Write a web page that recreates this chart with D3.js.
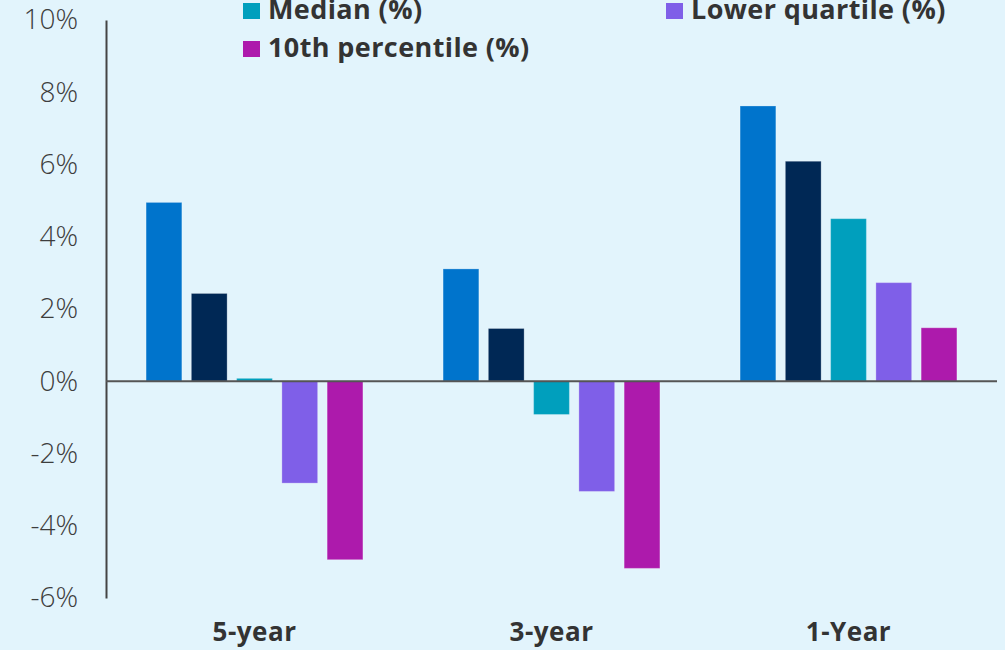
<!DOCTYPE html>
<html>
<head>
<meta charset="utf-8">
<script src="https://cdn.jsdelivr.net/npm/d3@7"></script>
<style>
  html, body { margin: 0; padding: 0; background: #e2f4fc; }
  svg { display: block; }
</style>
</head>
<body>
<svg id="chart" width="1005" height="650"></svg>
<script>
// Return periods shown along the x axis
const categories = ["5-year", "3-year", "1-Year"];

// Series (one bar per series in each period), values in %
const seriesNames = ["90th percentile (%)", "Upper quartile (%)", "Median (%)", "Lower quartile (%)", "10th percentile (%)"];
const p90 = [4.95, 3.11, 7.62];
const upperQuartile = [2.43, 1.46, 6.09];
const median = [0.08, -0.92, 4.50];
const lowerQuartile = [-2.82, -3.05, 2.73];
const p10 = [-4.94, -5.18, 1.48];
const seriesValues = [p90, upperQuartile, median, lowerQuartile, p10];

const colors = ["#0074cc", "#002855", "#009fbd", "#7f5fe8", "#ad1aac"];
const yTicks = [-6, -4, -2, 0, 2, 4, 6, 8, 10];

const svg = d3.select("#chart");
const W = 1005, H = 650;
const margin = { left: 106, right: 8, top: 20, bottom: 52 };
const FONT = "'Open Sans', sans-serif";

const x0 = d3.scaleBand()
  .domain(categories)
  .range([margin.left, W - margin.right])
  .paddingInner(0.27)
  .paddingOuter(0.135);

const x1 = d3.scaleBand()
  .domain(seriesNames)
  .range([0, x0.bandwidth()])
  .paddingInner(0.21)
  .paddingOuter(0);

const y = d3.scaleLinear()
  .domain([-6, 10])
  .range([H - margin.bottom, margin.top]);

// Bars
const rows = categories.map((c, i) => ({
  cat: c,
  vals: seriesNames.map((s, j) => ({ s, j, v: seriesValues[j][i] }))
}));

svg.append("g").selectAll("g")
  .data(rows)
  .join("g")
  .attr("transform", d => `translate(${x0(d.cat)},0)`)
  .selectAll("rect")
  .data(d => d.vals)
  .join("rect")
  .attr("x", d => x1(d.s))
  .attr("width", x1.bandwidth())
  .attr("y", d => y(Math.max(0, d.v)))
  .attr("height", d => Math.abs(y(d.v) - y(0)))
  .attr("fill", d => colors[d.j])
  .attr("stroke", "rgba(255,255,255,0.25)")
  .attr("stroke-width", 1);

// Y axis: labels only, with a plain vertical rule
const yAxis = d3.axisLeft(y)
  .tickValues(yTicks)
  .tickFormat(d => d + "%")
  .tickSize(0)
  .tickPadding(28);

const gy = svg.append("g")
  .attr("transform", `translate(${margin.left},0)`)
  .call(yAxis);
gy.select(".domain").attr("stroke", "#444").attr("stroke-width", 2);
gy.selectAll(".tick text")
  .attr("font-family", FONT)
  .attr("font-size", 28)
  .attr("font-weight", 300)
  .attr("fill", "#3d3d3d");

// Zero line
svg.append("line")
  .attr("x1", margin.left)
  .attr("x2", W - margin.right)
  .attr("y1", y(0))
  .attr("y2", y(0))
  .attr("stroke", "#555")
  .attr("stroke-width", 2);

// Category labels
const xAxis = d3.axisBottom(x0).tickSize(0).tickPadding(0);
const gx = svg.append("g")
  .attr("transform", `translate(0,641)`)
  .call(xAxis);
gx.select(".domain").remove();
gx.selectAll(".tick text")
  .attr("y", 0)
  .attr("dy", 0)
  .attr("font-family", FONT)
  .attr("font-size", 26)
  .attr("font-weight", 700)
  .attr("letter-spacing", 0.5)
  .attr("fill", "#333");

// Legend: two columns, rows 38px apart; the first row sits above the top edge
const legendCols = [243, 666];
const legendRowY = [-28, 11, 49];
const legend = svg.append("g")
  .selectAll("g")
  .data(seriesNames.map((s, j) => ({ s, j })))
  .join("g")
  .attr("transform", d => `translate(${legendCols[d.j % 2]},${legendRowY[Math.floor(d.j / 2)]})`);

legend.append("rect")
  .attr("x", 0)
  .attr("y", -8)
  .attr("width", 17)
  .attr("height", 16)
  .attr("fill", d => colors[d.j]);

legend.append("text")
  .attr("x", 25)
  .attr("y", 0)
  .attr("dy", "0.28em")
  .attr("font-family", FONT)
  .attr("font-size", 27)
  .attr("font-weight", 700)
  .attr("letter-spacing", 0.4)
  .attr("fill", "#333")
  .text(d => d.s);
</script>
</body>
</html>
